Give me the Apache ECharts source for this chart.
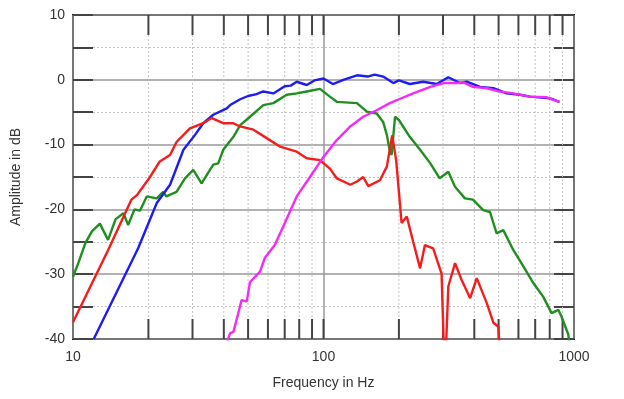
<!DOCTYPE html>
<html>
<head>
<meta charset="utf-8">
<script src="https://cdn.jsdelivr.net/npm/echarts@6/dist/echarts.min.js"></script>
<style>
  html, body { margin: 0; background: #fff; }
  #chart { width: 624px; height: 399px; }
</style>
</head>
<body>
<div id="chart"></div>
<script>
// axis decoration frequencies (log axis minor grid)
const majorFreqs = [10, 100, 1000];
const tickFreqs = [20, 30, 40, 50, 60, 70, 80, 90, 100, 200, 300, 400, 500, 600, 700, 800, 900];

// blue
const blueFreq = [12.1, 18.2, 21.6, 24.4, 27.6, 30.7, 33.1, 36.3, 41.1, 42.4, 46.5, 50, 54, 57.5, 63.1, 70, 74, 78.2, 85.7, 92, 100, 109, 120, 136, 150, 160, 173, 190, 200, 221, 250, 283, 315, 351, 373, 422, 477, 538, 608, 667, 778, 826, 870];
const blueDb   = [-40, -26.0, -19.0, -16.2, -10.8, -8.5, -6.7, -5.4, -4.4, -3.9, -3.0, -2.5, -2.2, -1.8, -2.1, -1.0, -0.9, -0.3, -0.8, -0.1, 0.2, -0.65, 0.0, 0.7, 0.5, 0.8, 0.5, -0.5, -0.1, -0.65, -0.3, -0.65, 0.4, -0.5, -0.3, -1.1, -1.3, -2.1, -2.3, -2.6, -2.8, -3.0, -3.4];

// red
const redFreq = [10, 13.8, 17.1, 18.0, 20.3, 22.2, 24.4, 25.9, 29.3, 33.1, 35.8, 39.8, 43.7, 46.4, 52.5, 59.3, 67.0, 78.2, 85.7, 96.8, 106, 113, 128, 136, 144, 151, 168, 179, 188, 195, 205, 215, 228, 243, 254, 274, 296, 305, 315, 335, 356, 385, 409, 449, 477, 499, 505];
const redDb   = [-37.4, -26.3, -18.5, -17.8, -15.0, -12.6, -11.6, -9.6, -7.5, -6.7, -5.9, -6.7, -6.7, -7.2, -7.7, -9.0, -10.3, -11.1, -12.1, -12.4, -13.7, -15.2, -16.2, -15.7, -15.0, -16.4, -15.5, -13.4, -8.6, -12.4, -22.1, -21.1, -25.0, -29.1, -25.5, -26.0, -29.9, -46, -31.9, -28.3, -30.9, -33.7, -30.6, -34.5, -37.5, -38.1, -42];

// green
const greenFreq = [10, 10.5, 11.2, 11.9, 12.8, 13.8, 14.8, 15.9, 16.6, 17.6, 18.5, 19.7, 21.6, 22.9, 23.6, 25.9, 28.0, 30.2, 32.6, 36.3, 38.0, 39.8, 43.7, 46.5, 50.9, 57.5, 63.1, 71.3, 78.2, 85.7, 96.8, 106, 113, 136, 149, 163, 173, 179, 184, 187, 193, 200, 221, 243, 267, 291, 315, 335, 367, 395, 434, 462, 491, 522, 573, 628, 689, 754, 814, 866, 893, 949, 960];
const greenDb   = [-30.4, -28.3, -25.2, -23.4, -22.2, -24.7, -21.5, -20.6, -22.4, -20.0, -20.2, -18.0, -18.3, -17.3, -18.0, -17.3, -15.2, -13.9, -16.0, -13.1, -12.9, -10.8, -8.8, -7.0, -5.7, -3.9, -3.6, -2.3, -2.1, -1.8, -1.4, -2.6, -3.4, -3.6, -4.9, -5.2, -6.5, -8.5, -11.0, -11.6, -5.7, -6.2, -8.8, -10.8, -12.9, -15.2, -14.2, -16.5, -18.3, -18.5, -20.1, -20.4, -23.7, -23.2, -26.3, -28.8, -31.4, -33.5, -36.0, -35.5, -36.6, -39.3, -41];

// magenta
const magentaFreq = [41.1, 42.4, 43.7, 45.7, 47.1, 49.4, 50.9, 55.8, 58.3, 63.9, 68.0, 78.2, 88.3, 100, 113, 128, 144, 163, 184, 200, 228, 267, 302, 341, 362, 395, 449, 504, 573, 667, 778, 826, 879];
const magentaDb   = [-40.5, -39.1, -38.9, -36.0, -34.0, -34.2, -31.2, -29.6, -27.5, -25.5, -23.2, -18.0, -15.0, -11.9, -9.3, -7.2, -5.7, -4.7, -3.6, -3.0, -2.1, -1.1, -0.5, -0.5, -0.4, -1.1, -1.3, -1.8, -2.1, -2.6, -2.7, -3.1, -3.4];

const zip = (xs, ys) => xs.map((x, i) => [x, ys[i]]);
const font = 'Liberation Sans, Arial, sans-serif';

const yAxisBase = {
  type: 'value',
  min: -40,
  max: 10,
  interval: 10,
  axisLine: { show: false },
  axisTick: { show: true, inside: true, length: 20, lineStyle: { color: '#444', width: 2 } },
  minorTick: { show: true, splitNumber: 2, length: 20, lineStyle: { color: '#444', width: 2 } },
  splitLine: { show: true, lineStyle: { color: '#999', width: 1.5 } },
  minorSplitLine: { show: true, lineStyle: { color: '#c4c4c4', type: [2, 2], width: 1 } }
};

function lineSeries(data, color) {
  return {
    type: 'line',
    data: data,
    showSymbol: false,
    symbol: 'none',
    clip: true,
    lineStyle: { color: color, width: 2.4 },
    z: 5
  };
}

const chart = echarts.init(document.getElementById('chart'), null, { renderer: 'canvas' });
chart.setOption({
  animation: false,
  backgroundColor: '#fff',
  grid: { left: 73, right: 50, top: 15, bottom: 60, show: true, borderColor: '#111', borderWidth: 2, backgroundColor: 'transparent' },
  xAxis: {
    type: 'log',
    logBase: 10,
    min: 10,
    max: 1000,
    name: 'Frequency in Hz',
    nameLocation: 'middle',
    nameGap: 37,
    nameTextStyle: { fontFamily: font, fontSize: 14, color: '#333' },
    axisLine: { show: false },
    axisTick: { show: false },
    axisLabel: { fontFamily: font, fontSize: 14, color: '#333', margin: 11, formatter: v => String(Math.round(v)) },
    splitLine: { show: true, lineStyle: { color: '#999', width: 1.5 } }
  },
  yAxis: [
    Object.assign({}, yAxisBase, {
      position: 'left',
      name: 'Amplitude in dB',
      nameLocation: 'middle',
      nameGap: 50,
      nameTextStyle: { fontFamily: font, fontSize: 14, color: '#333' },
      axisLabel: { fontFamily: font, fontSize: 14, color: '#333', margin: 8 }
    }),
    Object.assign({}, yAxisBase, {
      position: 'right',
      axisLabel: { show: false },
      splitLine: { show: false },
      minorSplitLine: { show: false }
    })
  ],
  series: [
    {
      type: 'custom',
      silent: true,
      z: 1,
      clip: false,
      data: tickFreqs.map(f => [f, -40]),
      encode: { x: 0, y: 1 },
      renderItem: function (params, api) {
        const f = api.value(0);
        const top = api.coord([f, 10]);
        const bot = api.coord([f, -40]);
        const children = [];
        if (majorFreqs.indexOf(f) < 0) {
          children.push({ type: 'line', shape: { x1: top[0], y1: top[1], x2: bot[0], y2: bot[1] }, style: { stroke: '#c4c4c4', lineWidth: 1, lineDash: [2, 2] } });
        }
        children.push({ type: 'line', shape: { x1: top[0], y1: top[1], x2: top[0], y2: top[1] + 20 }, style: { stroke: '#444', lineWidth: 2 } });
        children.push({ type: 'line', shape: { x1: bot[0], y1: bot[1], x2: bot[0], y2: bot[1] - 20 }, style: { stroke: '#444', lineWidth: 2 } });
        return { type: 'group', children: children };
      }
    },
    lineSeries(zip(greenFreq, greenDb), '#1f8f1f'),
    lineSeries(zip(blueFreq, blueDb), '#1c1cf5'),
    lineSeries(zip(redFreq, redDb), '#f51c1c'),
    lineSeries(zip(magentaFreq, magentaDb), '#f52af5')
  ]
});
</script>
</body>
</html>
